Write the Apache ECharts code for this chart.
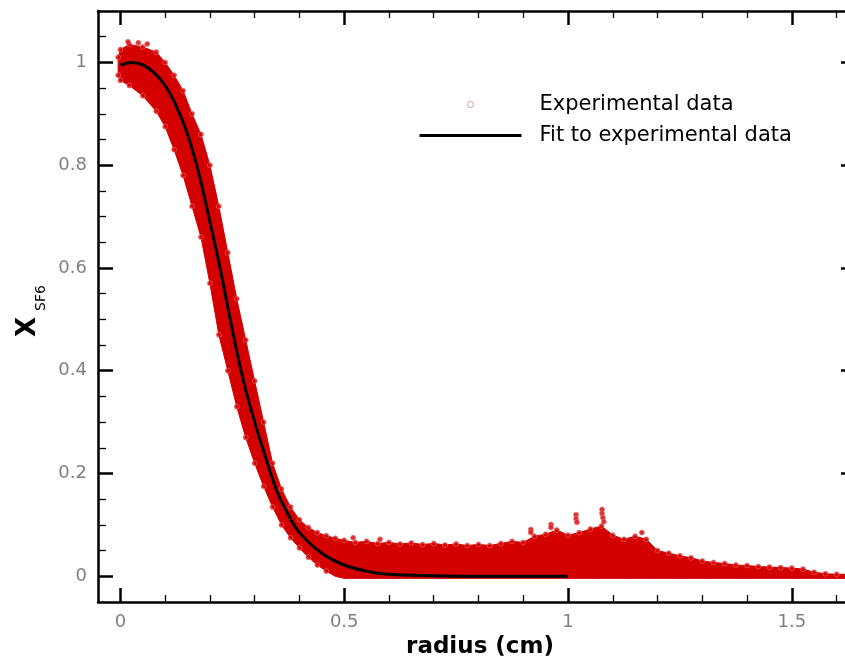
<!DOCTYPE html>
<html><head><meta charset="utf-8">
<script src="https://cdn.jsdelivr.net/npm/echarts@6/dist/echarts.min.js"></script>
<style>html,body{margin:0;padding:0;background:#fff}#c{width:845px;height:659px}</style>
</head><body><div id="c"></div>
<script>
// ---- data ----
const xMajorTicks = [0, 0.5, 1, 1.5];
const xMinorTicks = [0.1, 0.2, 0.3, 0.4, 0.6, 0.7, 0.8, 0.9, 1.1, 1.2, 1.3, 1.4, 1.6];
const yMajorTicks = [0, 0.2, 0.4, 0.6, 0.8, 1];
const yMinorTicks = [0.05, 0.1, 0.15, 0.25, 0.3, 0.35, 0.45, 0.5, 0.55, 0.65, 0.7, 0.75, 0.85, 0.9, 0.95, 1.05];

// fit curve
const fitX = [0, 0.025, 0.05, 0.075, 0.1, 0.125, 0.15, 0.175, 0.2, 0.225, 0.25, 0.275, 0.3, 0.325, 0.35, 0.375, 0.4, 0.45, 0.5, 0.55, 0.6, 0.7, 0.8, 1.0];
const fitY = [0.995, 1.0, 0.995, 0.98, 0.955, 0.915, 0.86, 0.785, 0.69, 0.59, 0.48, 0.38, 0.30, 0.23, 0.165, 0.12, 0.085, 0.045, 0.022, 0.01, 0.004, 0.001, 0, 0];

// experimental data cloud: upper and lower envelopes
const bandX = [-0.005, 0.0, 0.02, 0.05, 0.08, 0.1, 0.12, 0.14, 0.16, 0.18, 0.2, 0.22, 0.24, 0.26, 0.28, 0.3, 0.32, 0.34, 0.36, 0.38, 0.4, 0.42, 0.44, 0.46, 0.48,
  0.5, 0.525, 0.55, 0.575, 0.6, 0.625, 0.65, 0.675, 0.7, 0.725, 0.75, 0.775, 0.8, 0.825, 0.85, 0.875, 0.9, 0.925, 0.95, 0.975, 1.0, 1.025, 1.05, 1.075, 1.1, 1.125, 1.15, 1.175,
  1.2, 1.225, 1.25, 1.275, 1.3, 1.325, 1.35, 1.375, 1.4, 1.425, 1.45, 1.475, 1.5, 1.525, 1.55, 1.575, 1.6, 1.63];
const bandHigh = [1.01, 1.025, 1.035, 1.03, 1.02, 1.0, 0.975, 0.945, 0.90, 0.86, 0.80, 0.72, 0.63, 0.54, 0.46, 0.38, 0.30, 0.22, 0.17, 0.135, 0.11, 0.095, 0.085, 0.079, 0.074,
  0.070, 0.066, 0.068, 0.064, 0.066, 0.063, 0.065, 0.062, 0.064, 0.061, 0.063, 0.060, 0.062, 0.060, 0.064, 0.068, 0.066, 0.078, 0.082, 0.090, 0.080, 0.085, 0.092, 0.098, 0.080, 0.072, 0.078, 0.072,
  0.050, 0.045, 0.040, 0.036, 0.030, 0.027, 0.025, 0.022, 0.021, 0.019, 0.018, 0.017, 0.016, 0.014, 0.008, 0.005, 0.004, 0.004];
const bandLow = [0.975, 0.965, 0.955, 0.935, 0.905, 0.875, 0.83, 0.78, 0.72, 0.66, 0.57, 0.47, 0.40, 0.33, 0.27, 0.22, 0.175, 0.135, 0.10, 0.075, 0.055, 0.037, 0.022, 0.01, 0.0,
  -0.004, -0.004, -0.004, -0.004, -0.004, -0.004, -0.004, -0.004, -0.004, -0.004, -0.004, -0.004, -0.004, -0.004, -0.004, -0.004, -0.004, -0.004, -0.004, -0.004, -0.004, -0.004, -0.004, -0.004, -0.004, -0.004, -0.004, -0.004,
  -0.004, -0.004, -0.004, -0.004, -0.004, -0.004, -0.004, -0.004, -0.004, -0.004, -0.004, -0.004, -0.004, -0.004, -0.004, -0.004, -0.004, -0.004];
// scattered individual points standing out of the cloud
const outlierX = [0.017, 0.04, 0.06, 0.52, 0.58, 0.917, 0.917, 0.962, 0.962, 1.018, 1.018, 1.02, 1.076, 1.076, 1.078, 1.08, 1.165];
const outlierY = [1.04, 1.038, 1.036, 0.075, 0.072, 0.091, 0.085, 0.101, 0.095, 0.12, 0.112, 0.105, 0.13, 0.122, 0.114, 0.106, 0.085];

// ---- chart ----
const FONT = 'DejaVu Sans';
const X_MIN = -0.05, X_MAX = 1.63, Y_MIN = -0.05, Y_MAX = 1.1;

const edgePts = [];
for (let i = 0; i < bandX.length; i++) {
  edgePts.push([bandX[i], bandHigh[i]]);
  if (bandLow[i] > 0.001) edgePts.push([bandX[i], bandLow[i]]);
}
for (let i = 0; i < outlierX.length; i++) edgePts.push([outlierX[i], outlierY[i]]);

function xAx(pos, major, withLabel) {
  return {
    type: 'value', min: X_MIN, max: X_MAX, position: pos,
    splitLine: { show: false },
    axisLine: { show: major, onZero: false, lineStyle: { color: '#000', width: 2.5 } },
    axisTick: { show: true, inside: true, length: major ? 14 : 7, customValues: major ? xMajorTicks : xMinorTicks,
      lineStyle: { color: '#000', width: major ? 2.5 : 1.3 } },
    axisLabel: withLabel ? { show: true, customValues: xMajorTicks, color: '#808080', fontSize: 18, fontFamily: FONT, margin: 11 } : { show: false }
  };
}
function yAx(pos, major, withLabel, tickScale) {
  return {
    type: 'value', min: Y_MIN, max: Y_MAX, position: pos,
    splitLine: { show: false },
    axisLine: { show: major, onZero: false, lineStyle: { color: '#000', width: 2.5 } },
    axisTick: { show: true, inside: true, length: (major ? 15 : 8) * tickScale, customValues: major ? yMajorTicks : yMinorTicks,
      lineStyle: { color: '#000', width: major ? 2.5 : 1.3 } },
    axisLabel: withLabel ? { show: true, customValues: yMajorTicks, color: '#808080', fontSize: 18, fontFamily: FONT, margin: 11 } : { show: false }
  };
}

const xAxes = [xAx('bottom', true, true), xAx('bottom', false, false), xAx('top', true, false), xAx('top', false, false)];
xAxes[0].name = 'radius (cm)';
xAxes[0].nameLocation = 'middle';
xAxes[0].nameGap = 21;
xAxes[0].nameTextStyle = { fontSize: 23, fontWeight: 'bold', color: '#000', fontFamily: FONT, padding: [0, 0, 0, 12] };
const yAxes = [yAx('left', true, true, 1), yAx('left', false, false, 1), yAx('right', true, false, 0.6), yAx('right', false, false, 0.6)];

const chart = echarts.init(document.getElementById('c'), null, { renderer: 'canvas' });
chart.setOption({
  animation: false,
  backgroundColor: '#fff',
  grid: { left: 98, top: 11, right: -5, height: 591, containLabel: false, outerBoundsMode: 'none' },
  xAxis: xAxes,
  yAxis: yAxes,
  legend: {
    orient: 'vertical', left: 418, top: 94, padding: 0, itemWidth: 102, itemHeight: 6, itemGap: 10,
    textStyle: { fontSize: 21, fontFamily: FONT, color: '#000', padding: [0, 0, 0, 13] },
    data: [
      { name: 'Experimental data', icon: 'circle', itemStyle: { color: 'rgba(0,0,0,0)', borderColor: '#e07a7a', borderWidth: 1 } },
      { name: 'Fit to experimental data', itemStyle: { color: 'rgba(0,0,0,0)', borderWidth: 0 }, lineStyle: { color: '#000', width: 3 } }
    ]
  },
  graphic: [
    { type: 'text', x: 28, y: 327, rotation: Math.PI / 2, style: { text: 'X', font: 'bold 26px "DejaVu Sans"', fill: '#000', align: 'center', verticalAlign: 'middle' } },
    { type: 'text', x: 41, y: 298, rotation: Math.PI / 2, style: { text: 'SF6', font: '14px "DejaVu Sans"', fill: '#000', align: 'center', verticalAlign: 'middle' } }
  ],
  series: [
    {
      name: 'band', type: 'custom', xAxisIndex: 0, yAxisIndex: 0, clip: true, silent: true,
      data: bandX.map((x, i) => [x, bandHigh[i]]),
      renderItem: function (params, api) {
        if (params.dataIndex !== 0) return null;
        const pts = [];
        for (let i = 0; i < bandX.length; i++) pts.push(api.coord([bandX[i], bandHigh[i]]));
        for (let i = bandX.length - 1; i >= 0; i--) pts.push(api.coord([bandX[i], bandLow[i]]));
        return { type: 'polygon', shape: { points: pts }, style: { fill: '#d40000', stroke: '#d40000', lineWidth: 1 } };
      }
    },
    {
      name: 'Experimental data', type: 'scatter', xAxisIndex: 0, yAxisIndex: 0, symbol: 'circle', symbolSize: 5,
      data: edgePts,
      itemStyle: { color: '#d40000', borderColor: '#e87070', borderWidth: 0.8 }
    },
    {
      name: 'Fit to experimental data', type: 'line', xAxisIndex: 0, yAxisIndex: 0, symbol: 'none', showSymbol: false, smooth: 0.35,
      data: fitX.map((x, i) => [x, fitY[i]]),
      lineStyle: { color: '#000', width: 3 }, itemStyle: { color: '#000' }
    }
  ]
});
</script></body></html>
